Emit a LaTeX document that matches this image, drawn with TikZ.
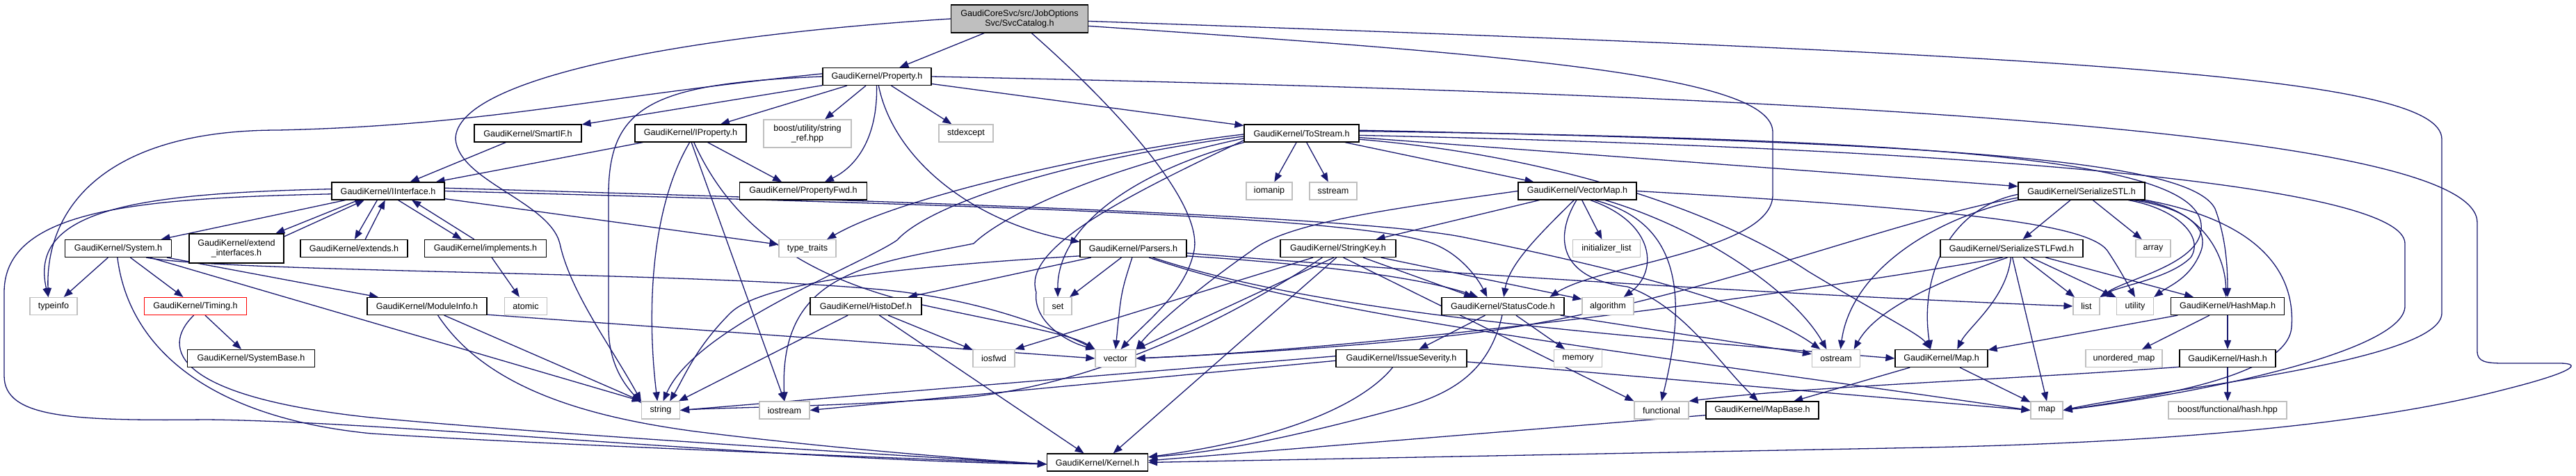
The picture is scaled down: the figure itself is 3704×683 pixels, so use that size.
\documentclass[tikz,border=0pt]{standalone}
\usepackage{fontspec}
\setmainfont{Liberation Sans}
\usetikzlibrary{arrows.meta}
\definecolor{edgeblue}{HTML}{191970}
\definecolor{sysgray}{HTML}{BFBFBF}
\pgfdeclarelayer{bg}
\pgfsetlayers{bg,main}
\tikzset{
  nbox/.style={draw=black, line width=1.2pt, fill=white, rectangle, minimum height=25pt,
    inner xsep=2pt, inner ysep=1pt, align=center, font=\fontsize{12.6}{14.5}\selectfont},
  sbox/.style={nbox, draw=sysgray},
  rbox/.style={nbox, draw=red},
  mbox/.style={nbox, fill=sysgray, minimum height=40pt},
  dep/.style={draw=edgeblue, line width=1.3pt, -{Triangle[length=13pt,width=10pt]}},
}
\begin{document}
\begin{tikzpicture}[x=1pt,y=-1pt]
\begin{pgfonlayer}{bg}
\fill[white] (0,0) rectangle (3704,683);
\end{pgfonlayer}
\useasboundingbox (0,0) rectangle (3704,683);
% ---------- nodes ----------
\node[mbox,minimum width=197pt] (cat) at (1466,27) {GaudiCoreSvc/src/JobOptions\\Svc/SvcCatalog.h};
\node[nbox,minimum width=156pt] (prop) at (1261,110) {GaudiKernel/Property.h};
\node[nbox,minimum width=154pt] (smartif) at (759,191.5) {GaudiKernel/SmartIF.h};
\node[nbox,minimum width=160pt] (iprop) at (993,191.5) {GaudiKernel/IProperty.h};
\node[sbox,minimum width=126pt,minimum height=40pt] (boostref) at (1161,192) {boost/utility/string\\\_ref.hpp};
\node[sbox,minimum width=78pt] (stdexc) at (1389,191.5) {stdexcept};
\node[nbox,minimum width=165pt] (tostream) at (1871.5,191.5) {GaudiKernel/ToStream.h};
\node[nbox,minimum width=162pt] (iif) at (558,274.5) {GaudiKernel/IInterface.h};
\node[nbox,minimum width=183pt] (propfwd) at (1155,274.5) {GaudiKernel/PropertyFwd.h};
\node[sbox,minimum width=66pt] (iomanip) at (1825,274.5) {iomanip};
\node[sbox,minimum width=68pt] (sstream) at (1917,274.5) {sstream};
\node[nbox,minimum width=170pt] (vmap) at (2268,274.5) {GaudiKernel/VectorMap.h};
\node[nbox,minimum width=182pt] (sstl) at (2993,274.5) {GaudiKernel/SerializeSTL.h};
\node[nbox,minimum width=153pt] (system) at (170,357) {GaudiKernel/System.h};
\node[nbox,minimum width=136pt,minimum height=42pt] (extint) at (340,357) {GaudiKernel/extend\\\_interfaces.h};
\node[nbox,minimum width=154pt] (extends) at (509,357) {GaudiKernel/extends.h};
\node[nbox,minimum width=175pt] (impl) at (698,357) {GaudiKernel/implements.h};
\node[sbox,minimum width=82pt] (ttraits) at (1161,357) {type\_traits};
\node[nbox,minimum width=153pt] (parsers) at (1629.5,357) {GaudiKernel/Parsers.h};
\node[nbox,minimum width=166pt] (skey) at (1924,357) {GaudiKernel/StringKey.h};
\node[sbox,minimum width=97pt] (initl) at (2310,357) {initializer\_list};
\node[nbox,minimum width=205pt] (sstlfwd) at (2892.5,357) {GaudiKernel/SerializeSTLFwd.h};
\node[sbox,minimum width=50pt] (array) at (3096,357) {array};
\node[sbox,minimum width=68pt] (typeinfo) at (77,440) {typeinfo};
\node[rbox,minimum width=147pt] (timing) at (281,440) {GaudiKernel/Timing.h};
\node[nbox,minimum width=172pt] (modinfo) at (614,440) {GaudiKernel/ModuleInfo.h};
\node[sbox,minimum width=61pt] (atomic) at (756,440) {atomic};
\node[nbox,minimum width=160pt] (histo) at (1245,440) {GaudiKernel/HistoDef.h};
\node[sbox,minimum width=40pt] (set) at (1521,440) {set};
\node[nbox,minimum width=176pt] (sc) at (2161,440) {GaudiKernel/StatusCode.h};
\node[sbox,minimum width=74pt] (algo) at (2312,440) {algorithm};
\node[sbox,minimum width=38pt] (list) at (3000,440) {list};
\node[sbox,minimum width=53pt] (utility) at (3070,440) {utility};
\node[nbox,minimum width=163pt] (hmap) at (3203,440) {GaudiKernel/HashMap.h};
\node[nbox,minimum width=183pt] (sysbase) at (361,515) {GaudiKernel/SystemBase.h};
\node[sbox,minimum width=60pt] (iosfwd) at (1429,515) {iosfwd};
\node[sbox,minimum width=58pt] (vector) at (1604,515) {vector};
\node[nbox,minimum width=188pt] (issev) at (2015,515) {GaudiKernel/IssueSeverity.h};
\node[sbox,minimum width=69pt] (memory) at (2269,515) {memory};
\node[sbox,minimum width=69pt] (ostream) at (2640,515) {ostream};
\node[nbox,minimum width=133pt] (maph) at (2791.5,515) {GaudiKernel/Map.h};
\node[sbox,minimum width=110pt] (umap) at (3054,515) {unordered\_map};
\node[nbox,minimum width=138pt] (hash) at (3203,515) {GaudiKernel/Hash.h};
\node[sbox,minimum width=55pt] (string) at (950,589.5) {string};
\node[sbox,minimum width=72pt] (iostream) at (1128,589.5) {iostream};
\node[sbox,minimum width=78pt] (functional) at (2389,589.5) {functional};
\node[nbox,minimum width=162pt] (mapbase) at (2534,589.5) {GaudiKernel/MapBase.h};
\node[sbox,minimum width=46pt] (map) at (2943,589.5) {map};
\node[sbox,minimum width=170pt] (bhash) at (3203,589.5) {boost/functional/hash.hpp};
\node[nbox,minimum width=145pt] (kernel) at (1578,664.5) {GaudiKernel/Kernel.h};
% ---------- edges ----------
\begin{pgfonlayer}{bg}
% SvcCatalog.h
\draw[dep] (cat) -- (prop);
\draw[dep] (cat.west) .. controls (1000,50) and (655,110) .. (655,200) .. controls (660,260) and (790,290) .. (805,350) .. controls (820,420) and (880,500) .. (string.north west);
\draw[dep] (cat.-50) .. controls (1600,150) and (1730,290) .. (1717,360) .. controls (1705,420) and (1650,460) .. (vector.60);
\draw[dep] (cat.-6) .. controls (2200,80) and (2549,110) .. (2549,190) -- (2549,280) .. controls (2549,360) and (2300,380) .. (sc.11);
\draw[dep] (cat.-2) .. controls (3000,80) and (3511,110) .. (3511,200) -- (3511,450) .. controls (3511,520) and (3100,560) .. (map.east);
% Property.h
\draw[dep] (prop) -- (smartif);
\draw[dep] (prop) -- (iprop);
\draw[dep] (prop) -- (boostref);
\draw[dep] (prop) -- (stdexc);
\draw[dep] (prop) -- (tostream);
\draw[dep] (prop.-92) .. controls (1262,200) and (1230,240) .. (propfwd.23);
\draw[dep] (prop.-80) .. controls (1285,230) and (1400,320) .. (parsers.173);
\draw[dep] (prop.west) .. controls (940,120) and (875,150) .. (875,280) -- (875,470) .. controls (875,530) and (905,560) .. (string.160);
\draw[dep] (prop.177) .. controls (850,140) and (700,180) .. (400,187) .. controls (150,187) and (65,300) .. (typeinfo.120);
\draw[dep] (prop.east) .. controls (2800,140) and (3562,200) .. (3562,320) -- (3562,505) .. controls (3562,520) and (3575,522) .. (3600,522) -- (3680,522) .. controls (3715,522) and (3700,535) .. (3600,560) .. controls (3400,612) and (3100,636) .. (2770,643) -- (kernel.0);
% SmartIF.h
\draw[dep] (smartif) -- (iif);
% IProperty.h
\draw[dep] (iprop) -- (iif);
\draw[dep] (iprop) -- (propfwd.157);
\draw[dep] (iprop.-96) .. controls (935,300) and (930,450) .. (string.110);
\draw[dep] (iprop.-85) -- (iostream.north);
\draw[dep] (iprop.-70) .. controls (1050,320) and (1150,400) .. (1335,440) .. controls (1450,465) and (1540,480) .. (vector.north west);
% IInterface.h
\draw[dep] (iif) -- (system);
\draw[dep] (iif.197) -- (extint.21);
\draw[dep] (extint.14) -- (iif.201);
\draw[dep] (iif.220) -- (extends.86);
\draw[dep] (extends.39) -- (iif.252);
\draw[dep] (iif.318) -- (impl.159);
\draw[dep] (impl.141) -- (iif.339);
\draw[dep] (iif.178) .. controls (200,278) and (40,300) .. (typeinfo.120);
\draw[dep] (iif.183) .. controls (200,285) and (6,300) .. (6,420) -- (6,540) .. controls (6,600) and (100,605) .. (296,603) .. controls (550,605) and (1100,660) .. (kernel.182);
\draw[dep] (iif) -- (ttraits);
\draw[dep] (iif.east) .. controls (1400,295) and (1950,310) .. (2060,350) .. controls (2100,365) and (2125,400) .. (sc.150);
\draw[dep] (iif.3) .. controls (1400,292) and (1950,312) .. (2100,340) .. controls (2350,390) and (2530,440) .. (ostream.150);
% implements
\draw[dep] (impl) -- (atomic);
% System.h
\draw[dep] (system) -- (typeinfo);
\draw[dep] (system) -- (timing);
\draw[dep] (system) -- (modinfo);
\draw[dep] (system.-16) -- (string.north west);
\draw[dep] (system.-18) .. controls (330,392) and (1000,390) .. (1276,417) .. controls (1420,432) and (1520,475) .. (vector.north west);
\draw[dep] (system.-95) .. controls (185,500) and (300,600) .. (534,623) .. controls (800,640) and (1300,658) .. (kernel.182);
% Timing.h
\draw[dep] (timing) -- (sysbase);
\draw[dep] (timing.-100) .. controls (230,500) and (250,570) .. (534,600) .. controls (800,625) and (1300,655) .. (kernel.182);
% ModuleInfo.h
\draw[dep] (modinfo.-28) -- (string.north west);
\draw[dep] (modinfo.-40) .. controls (700,560) and (850,600) .. (1000,620) .. controls (1200,645) and (1400,660) .. (kernel.182);
\draw[dep] (modinfo.-8) -- (vector.west);
% ToStream.h
\draw[dep] (tostream) -- (iomanip);
\draw[dep] (tostream) -- (sstream);
\draw[dep] (tostream) -- (vmap);
\draw[dep] (tostream) -- (sstl);
\draw[dep] (tostream.3) .. controls (2800,205) and (3150,230) .. (3185,300) .. controls (3200,340) and (3203,380) .. (hmap.north);
\draw[dep] (tostream.2) .. controls (2800,200) and (3175,230) .. (3165,330) .. controls (3160,380) and (3060,400) .. (list.north east);
\draw[dep] (tostream.-2) .. controls (2900,215) and (3458,270) .. (3458,350) -- (3458,440) .. controls (3458,500) and (3200,560) .. (map.east);
\draw[dep] (tostream.-6) .. controls (2250,225) and (2480,310) .. (2600,390) .. controls (2700,450) and (2760,480) .. (maph.140);
\draw[dep] (tostream.181) .. controls (1600,215) and (1300,280) .. (ttraits.25);
\draw[dep] (tostream.183) .. controls (1500,235) and (1330,300) .. (1290,345) .. controls (1240,380) and (1000,470) .. (string.75);
\draw[dep] (tostream.185) .. controls (1550,250) and (1430,320) .. (1400,350) .. controls (1250,380) and (1120,390) .. (iostream.north);
\draw[dep] (tostream.187) .. controls (1600,290) and (1470,360) .. (1490,420) .. controls (1485,460) and (1530,490) .. (vector.north west);
\draw[dep] (tostream.189) .. controls (1620,250) and (1520,330) .. (set.north);
% VectorMap.h
\draw[dep] (vmap) -- (skey);
\draw[dep] (vmap) -- (initl);
\draw[dep] (vmap.-110) .. controls (2210,340) and (2170,380) .. (sc.85);
\draw[dep] (vmap.-35) .. controls (2380,320) and (2385,390) .. (algo.30);
\draw[dep] (vmap.-28) .. controls (2420,320) and (2425,430) .. (functional.north);
\draw[dep] (vmap.-95) .. controls (2235,340) and (2240,400) .. (2340,412) .. controls (2420,440) and (2470,520) .. (mapbase.115);
\draw[dep] (vmap.-18) .. controls (2450,330) and (2580,420) .. (ostream.136);
\draw[dep] (vmap.east) .. controls (2800,300) and (3000,320) .. (3030,360) .. controls (3050,390) and (3060,410) .. (utility.north);
\draw[dep] (vmap.west) .. controls (2000,300) and (1850,320) .. (1800,360) .. controls (1700,430) and (1650,480) .. (vector.north east);
% SerializeSTL.h
\draw[dep] (sstl) -- (sstlfwd);
\draw[dep] (sstl) -- (array);
\draw[dep] (sstl.-11) .. controls (3130,300) and (3170,340) .. (3150,370) .. controls (3120,400) and (3050,410) .. (list.north east);
\draw[dep] (sstl.-10) .. controls (3150,300) and (3175,330) .. (3165,360) .. controls (3150,400) and (3120,410) .. (utility.north east);
\draw[dep] (sstl.-9) .. controls (3170,300) and (3200,370) .. (hmap.100);
\draw[dep] (sstl.-8) .. controls (3260,320) and (3300,400) .. (3295,470) .. controls (3290,540) and (3100,570) .. (map.east);
\draw[dep] (sstl.183) .. controls (2800,300) and (2760,400) .. (maph.140);
\draw[dep] (sstl.186) .. controls (2700,320) and (2400,450) .. (2080,483) .. controls (1900,503) and (1700,512) .. (vector.east);
\draw[dep] (sstl.188) .. controls (2760,320) and (2660,400) .. (ostream.64);
% SerializeSTLFwd.h
\draw[dep] (sstlfwd) -- (list);
\draw[dep] (sstlfwd) -- (utility);
\draw[dep] (sstlfwd) -- (hmap);
\draw[dep] (sstlfwd.-95) .. controls (2885,430) and (2830,470) .. (maph.30);
\draw[dep] (sstlfwd.-85) -- (map.north);
\draw[dep] (sstlfwd.-115) .. controls (2800,400) and (2700,440) .. (ostream.27);
\draw[dep] (sstlfwd.-135) .. controls (2600,420) and (2000,500) .. (vector.east);
% HashMap.h / Hash.h / Map.h / MapBase.h
\draw[dep] (hmap) -- (maph);
\draw[dep] (hmap) -- (umap);
\draw[dep] (hmap) -- (hash);
\draw[dep] (hash) -- (bhash);
\draw[dep] (hash.190) .. controls (2900,545) and (2600,555) .. (functional.north east);
\draw[dep] (maph) -- (map);
\draw[dep] (maph) -- (mapbase);
\draw[dep] (mapbase.185) -- (kernel.2);
% Parsers.h
\draw[dep] (parsers) -- (histo);
\draw[dep] (parsers) -- (set);
\draw[dep] (parsers.-97) .. controls (1612,420) .. (vector.north);
\draw[dep] (parsers.188) .. controls (1350,380) and (1100,400) .. (1050,450) .. controls (1000,500) and (985,540) .. (string.45);
\draw[dep] (parsers.-8) .. controls (1900,380) and (2050,400) .. (sc.160);
\draw[dep] (parsers.-5) .. controls (2100,395) and (2600,425) .. (list.west);
\draw[dep] (parsers.-30) .. controls (1900,455) and (2300,500) .. (map.west);
\draw[dep] (parsers.-25) .. controls (1900,450) and (2300,480) .. (maph.west);
% HistoDef.h
\draw[dep] (histo) -- (iosfwd);
\draw[dep] (histo) -- (string);
\draw[dep] (histo) -- (kernel);
% StringKey.h
\draw[dep] (skey.-160) -- (iosfwd.north east);
\draw[dep] (skey.-150) .. controls (1780,450) and (1600,545) .. (1400,570) .. controls (1200,585) and (1050,585) .. (string.east);
\draw[dep] (skey.-115) -- (vector.north east);
\draw[dep] (skey.-100) -- (kernel.30);
\draw[dep] (skey.-60) -- (functional.north west);
\draw[dep] (skey.-20) -- (sc.163);
\draw[dep] (skey.-12) -- (algo.165);
% StatusCode.h
\draw[dep] (sc) -- (issev);
\draw[dep] (sc) -- (memory);
\draw[dep] (sc.-95) .. controls (2140,540) and (2080,570) .. (2000,590) .. controls (1850,630) and (1750,650) .. (kernel.6);
\draw[dep] (sc.-9) -- (ostream.170);
% IssueSeverity.h
\draw[dep] (issev.178) -- (string.east);
\draw[dep] (issev.182) -- (iostream.east);
\draw[dep] (issev.-134) .. controls (1960,580) and (1850,630) .. (kernel.6);
\draw[dep] (issev.-3) -- (map.west);
\end{pgfonlayer}
\end{tikzpicture}
\end{document}
